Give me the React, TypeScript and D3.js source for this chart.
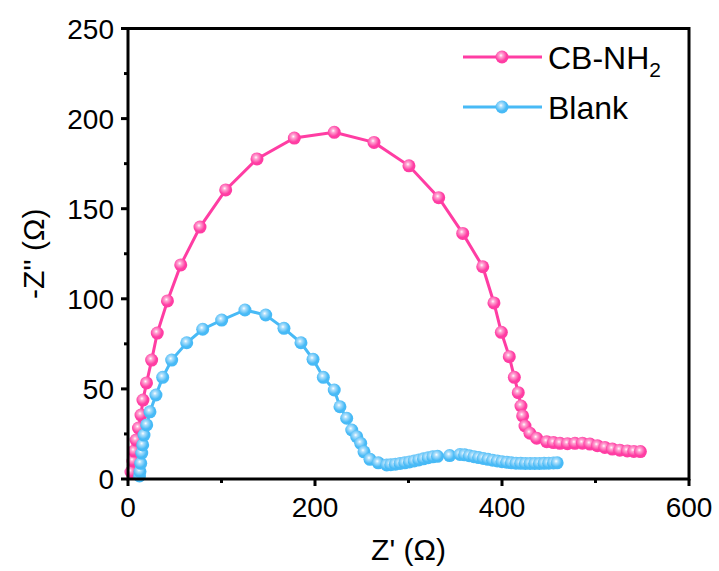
import React from "react";
import * as d3 from "d3";

const cbX = [3.2, 5.3, 6.4, 8.6, 11.2, 13.9, 16.0, 19.8, 25.3, 31.3, 42.2, 56.4, 77.0, 104.5, 138.0, 177.9, 220.6, 263.1, 300.5, 332.3, 358.0, 379.4, 391.4, 399.3, 407.8, 413.2, 417.4, 420.3, 422.1, 424.6, 429.9, 437.1, 447.8, 455, 462, 470, 478, 486, 494, 502, 510, 518, 526, 534, 541, 548];
const cbY = [3.9, 10.0, 15.5, 21.6, 28.3, 35.5, 43.8, 53.3, 66.0, 81.0, 98.8, 118.8, 139.8, 160.4, 177.6, 189.2, 192.4, 186.8, 173.8, 156.1, 136.3, 117.8, 97.7, 81.4, 67.9, 56.4, 47.9, 40.5, 35.0, 29.4, 25.4, 22.6, 20.7, 20.2, 19.8, 19.6, 19.8, 19.9, 19.4, 18.5, 17.5, 16.6, 16.0, 15.6, 15.3, 15.2];

const blankX = [12.3, 12.8, 13.6, 14.7, 15.7, 17.1, 20.0, 23.5, 29.9, 37.1, 46.7, 62.8, 79.9, 100.2, 125.1, 147.3, 166.8, 185.0, 197.9, 208.9, 220.6, 226.7, 233.9, 239.3, 244.6, 248.9, 252.4, 258.8, 267.7, 276.7, 281, 286, 291, 296, 301, 306, 311, 316, 321, 326, 331, 344, 355, 360, 365, 370, 375, 380, 385, 390, 395, 400, 405, 410, 415, 420, 425, 430, 435, 440, 445, 450, 455, 459];
const blankY = [1.7, 4.1, 8.7, 14.4, 18.9, 24.4, 30.0, 37.3, 46.6, 56.4, 66.0, 75.6, 83.1, 88.2, 93.8, 91.0, 83.6, 75.6, 66.4, 56.4, 49.4, 40.1, 33.7, 27.2, 23.5, 19.8, 15.1, 10.9, 9.0, 7.8, 7.9, 8.2, 8.6, 9.0, 9.5, 10.0, 10.6, 11.2, 11.8, 12.3, 12.6, 13.0, 13.6, 13.4, 12.9, 12.4, 11.9, 11.4, 10.9, 10.4, 10.0, 9.6, 9.3, 9.0, 8.8, 8.7, 8.6, 8.6, 8.6, 8.6, 8.7, 8.8, 8.9, 9.0];

const xTicks = [0, 200, 400, 600];
const xMinor = [100, 300, 500];
const yTicks = [0, 50, 100, 150, 200, 250];
const yMinor = [25, 75, 125, 175, 225];

const PINK = "#FF3DA3";
const BLUE = "#48BAF6";
const FONT = "Arial, 'Liberation Sans', sans-serif";

export default function App() {
  const x = d3.scaleLinear().domain([0, 600]).range([128, 689]);
  const y = d3.scaleLinear().domain([0, 250]).range([479, 28.5]);

  const series = [
    { key: "cb", xs: cbX, ys: cbY, color: PINK, grad: "gPink" },
    { key: "blank", xs: blankX, ys: blankY, color: BLUE, grad: "gBlue" },
  ];
  const line = d3.line<[number, number]>().x((d) => x(d[0])).y((d) => y(d[1]));
  const R = 6.5;

  return (
    <svg width={719} height={571} style={{ position: "absolute", left: 0, top: 0, background: "#fff" }}>
      <defs>
        <radialGradient id="gPink" cx="0.42" cy="0.38" r="0.62">
          <stop offset="0" stopColor="#ffffff" />
          <stop offset="0.22" stopColor="#ffa8d4" />
          <stop offset="0.7" stopColor={PINK} />
          <stop offset="1" stopColor={PINK} />
        </radialGradient>
        <radialGradient id="gBlue" cx="0.42" cy="0.38" r="0.62">
          <stop offset="0" stopColor="#ffffff" />
          <stop offset="0.22" stopColor="#b0e0fc" />
          <stop offset="0.7" stopColor={BLUE} />
          <stop offset="1" stopColor={BLUE} />
        </radialGradient>
      </defs>

      {series.map((s) => {
        const pts: [number, number][] = s.xs.map((v, i) => [v, s.ys[i]]);
        return (
          <g key={s.key}>
            <path d={line(pts) || ""} fill="none" stroke={s.color} strokeWidth={3} />
            {pts.map((p, i) => (
              <circle key={i} cx={x(p[0])} cy={y(p[1])} r={R} fill={`url(#${s.grad})`} />
            ))}
          </g>
        );
      })}

      {/* frame */}
      <rect x={x(0)} y={y(250)} width={x(600) - x(0)} height={y(0) - y(250)} fill="none" stroke="#000" strokeWidth={3} />

      {/* x ticks */}
      {xTicks.map((t) => (
        <g key={"xt" + t}>
          <line x1={x(t)} x2={x(t)} y1={y(0)} y2={y(0) + 7} stroke="#000" strokeWidth={3} />
          <text x={x(t)} y={y(0) + 38} textAnchor="middle" fontFamily={FONT} fontSize={28} fill="#000">{t}</text>
        </g>
      ))}
      {xMinor.map((t) => (
        <line key={"xm" + t} x1={x(t)} x2={x(t)} y1={y(0)} y2={y(0) + 4} stroke="#000" strokeWidth={3} />
      ))}

      {/* y ticks */}
      {yTicks.map((t) => (
        <g key={"yt" + t}>
          <line x1={x(0) - 7} x2={x(0)} y1={y(t)} y2={y(t)} stroke="#000" strokeWidth={3} />
          <text x={x(0) - 14} y={y(t) + 10} textAnchor="end" fontFamily={FONT} fontSize={28} fill="#000">{t}</text>
        </g>
      ))}
      {yMinor.map((t) => (
        <line key={"ym" + t} x1={x(0) - 4} x2={x(0)} y1={y(t)} y2={y(t)} stroke="#000" strokeWidth={3} />
      ))}

      {/* axis titles */}
      <text x={(x(0) + x(600)) / 2} y={560} textAnchor="middle" fontFamily={FONT} fontSize={30} fill="#000">Z' (Ω)</text>
      <text transform={`translate(44,${(y(0) + y(250)) / 2}) rotate(-90)`} textAnchor="middle" fontFamily={FONT} fontSize={30} fill="#000">-Z'' (Ω)</text>

      {/* legend */}
      <g>
        <line x1={463} x2={542} y1={57} y2={57} stroke={PINK} strokeWidth={3} />
        <circle cx={502} cy={57} r={R} fill="url(#gPink)" />
        <text x={548} y={69} fontFamily={FONT} fontSize={32} fill="#000">
          CB-NH<tspan fontSize={21} dy={8}>2</tspan>
        </text>
        <line x1={463} x2={542} y1={107} y2={107} stroke={BLUE} strokeWidth={3} />
        <circle cx={502} cy={107} r={R} fill="url(#gBlue)" />
        <text x={548} y={119} fontFamily={FONT} fontSize={32} fill="#000">Blank</text>
      </g>
    </svg>
  );
}
